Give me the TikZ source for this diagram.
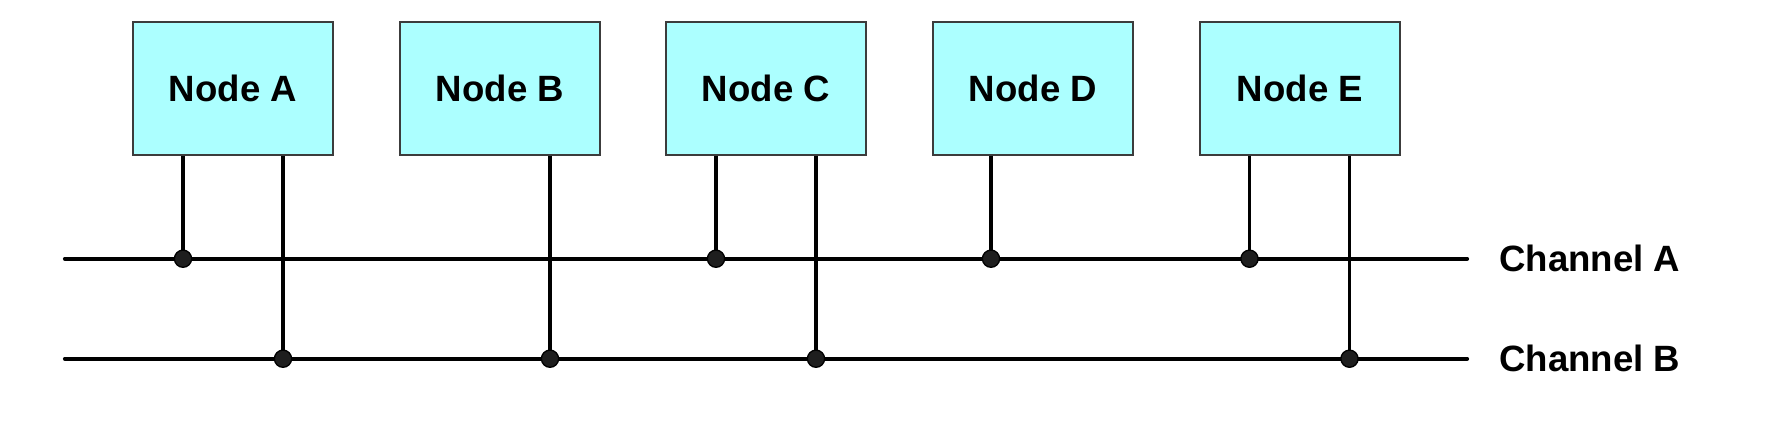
\documentclass[tikz,border=0pt]{standalone}
\usepackage{fontspec}
\setmainfont{Liberation Sans}
\definecolor{boxfill}{RGB}{172,255,255}
\definecolor{boxline}{RGB}{60,60,60}
\definecolor{dotfill}{RGB}{30,30,30}
\tikzset{
  nodebox/.style={draw=boxline, line width=1.2pt, fill=boxfill, minimum width=200pt, minimum height=133pt, inner sep=0pt,
    font=\fontsize{36.6}{43}\selectfont\bfseries},
  bus/.style={line width=4.2pt, line cap=round},
  drop/.style={line width=3.8pt},
  junction/.style={fill=dotfill, draw=black, line width=1.3pt},
  chlabel/.style={anchor=base west, inner sep=0pt, font=\fontsize{36.6}{43}\selectfont\bfseries}
}
\begin{document}
\begin{tikzpicture}[x=1pt,y=-1pt]
\useasboundingbox (0,0) rectangle (1767,426);
% nodes
\node[nodebox] (A) at (233,88.5) {Node A};
\node[nodebox] (B) at (500,88.5) {Node B};
\node[nodebox] (C) at (766,88.5) {Node C};
\node[nodebox] (D) at (1033,88.5) {Node D};
\node[nodebox] (E) at (1300,88.5) {Node E};
% channel endpoints
\coordinate (chAl) at (65,258.7);
\coordinate (chAr) at (1467,258.7);
\coordinate (chBl) at (65,358.7);
\coordinate (chBr) at (1467,358.7);
\node[chlabel] (labA) at (1499,271) {Channel A};
\node[chlabel] (labB) at (1499,371) {Channel B};
% junctions
\coordinate (a1) at (183,258.7);
\coordinate (a2) at (283,358.7);
\coordinate (b2) at (550,358.7);
\coordinate (c1) at (716,258.7);
\coordinate (c2) at (816,358.7);
\coordinate (d1) at (991,258.7);
\coordinate (e1) at (1249.5,258.7);
\coordinate (e2) at (1349.5,358.7);
% buses
\draw[bus] (chAl) -- (chAr);
\draw[bus] (chBl) -- (chBr);
% drops
\draw[drop] (A.south -| a1) -- (a1);
\draw[drop] (A.south -| a2) -- (a2);
\draw[drop] (B.south -| b2) -- (b2);
\draw[drop] (C.south -| c1) -- (c1);
\draw[drop] (C.south -| c2) -- (c2);
\draw[drop] (D.south -| d1) -- (d1);
\draw[drop] (E.south -| e1) -- (e1);
\draw[drop] (E.south -| e2) -- (e2);
% dots
\foreach \p in {a1,a2,b2,c1,c2,d1,e1,e2}
  \filldraw[junction] (\p) circle (8.6pt);
\end{tikzpicture}
\end{document}
